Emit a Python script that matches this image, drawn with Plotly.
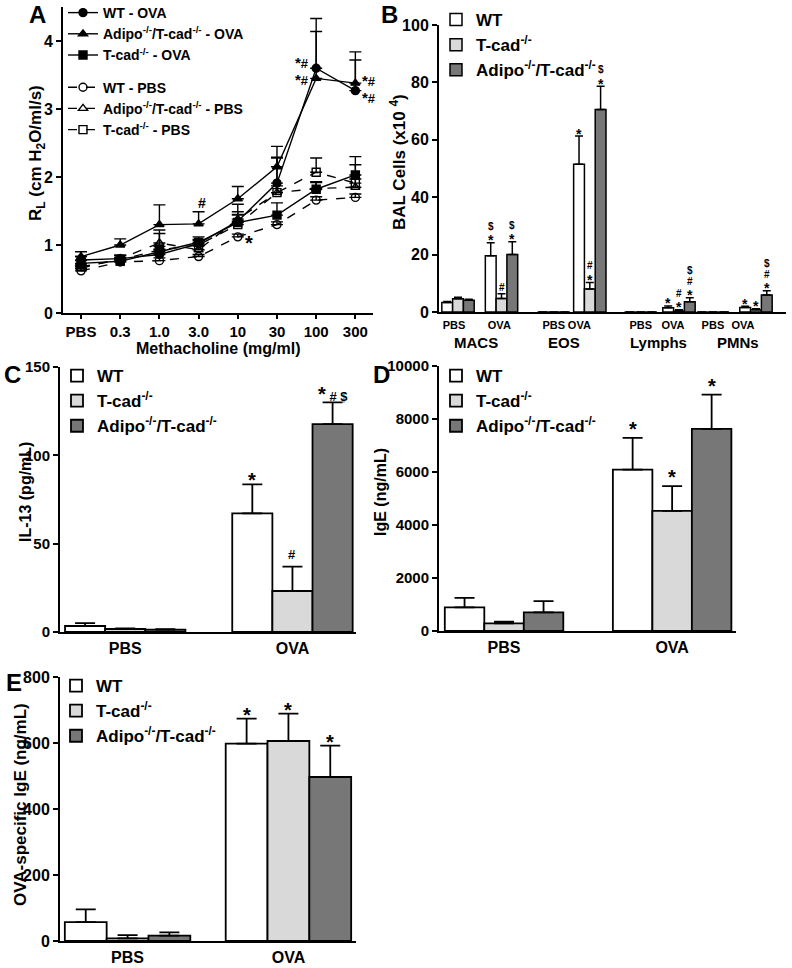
import plotly.graph_objects as go

W, H = 792, 968
FONT = "Liberation Sans, Arial, Helvetica, sans-serif"


def fx(p):
    return p / W


def fy(p):
    return 1 - p / H


def bold(size):
    return dict(size=size, color="black", family=FONT, weight="bold")


WHITE, LIGHT, DARK = "#ffffff", "#d9d9d9", "#777777"
SUP = "<sup>-/-</sup>"
N_WT = "WT"
N_TCAD = "T-cad" + SUP
N_ADIPO = "Adipo" + SUP + "/T-cad" + SUP

# ---------------- Panel A data ----------------
doses = ["PBS", "0.3", "1.0", "3.0", "10", "30", "100", "300"]
wt_ova = [0.78, 0.80, 0.86, 1.02, 1.35, 1.91, 3.60, 3.27]
wt_ova_err = [0.05, 0.05, 0.08, 0.06, 0.14, 0.37, 0.73, 0.45]
adipo_ova = [0.83, 1.00, 1.30, 1.31, 1.68, 2.15, 3.45, 3.38]
adipo_ova_err = [0.07, 0.09, 0.29, 0.18, 0.18, 0.30, 0.69, 0.46]
tcad_ova = [0.73, 0.76, 0.90, 1.04, 1.33, 1.44, 1.82, 2.03]
tcad_ova_err = [0.04, 0.05, 0.08, 0.08, 0.11, 0.18, 0.10, 0.27]
wt_pbs = [0.62, 0.75, 0.77, 0.83, 1.12, 1.30, 1.66, 1.70]
wt_pbs_err = [0.03, 0.03, 0.04, 0.03, 0.04, 0.04, 0.05, 0.05]
adipo_pbs = [0.66, 0.80, 1.03, 0.93, 1.38, 1.77, 1.83, 1.85]
adipo_pbs_err = [0.04, 0.05, 0.19, 0.06, 0.22, 0.10, 0.10, 0.12]
tcad_pbs = [0.68, 0.78, 0.93, 1.00, 1.30, 1.77, 2.07, 1.91]
tcad_pbs_err = [0.04, 0.04, 0.24, 0.07, 0.15, 0.52, 0.21, 0.27]

# ---------------- Panel B data ----------------
b_cells = ["MACS", "EOS", "Lymphs", "PMNs"]
b_treat = ["PBS", "OVA", "PBS", "OVA", "PBS", "OVA", "PBS", "OVA"]
b_wt = [3.3, 19.6, 0, 51.5, 0, 1.5, 0, 1.6]
b_wt_err = [0.4, 4.5, 0, 9.8, 0, 0.6, 0, 0.4]
b_tcad = [4.6, 4.7, 0, 8.0, 0, 0.3, 0, 0.8]
b_tcad_err = [0.5, 1.7, 0, 2.3, 0, 0.5, 0, 0.3]
b_adipo = [4.1, 20.0, 0, 70.6, 0, 3.6, 0, 5.9]
b_adipo_err = [0.3, 4.5, 0, 8.1, 0, 1.4, 0, 1.5]

# ---------------- Panels C, D, E data ----------------
groups = ["PBS", "OVA"]
c_wt, c_wt_err = [3.4, 67.2], [1.6, 16.4]
c_tcad, c_tcad_err = [1.7, 23.2], [0.4, 13.8]
c_adipo, c_adipo_err = [1.3, 117.7], [0.3, 12.3]

d_wt, d_wt_err = [890, 6090], [360, 1200]
d_tcad, d_tcad_err = [290, 4530], [60, 940]
d_adipo, d_adipo_err = [700, 7630], [430, 1290]

e_wt, e_wt_err = [57, 598], [39, 76]
e_tcad, e_tcad_err = [8, 606], [10, 83]
e_adipo, e_adipo_err = [16, 497], [10, 95]

# ---------------- layout helpers (positions) ----------------
b_pos = [0, 1, 2.2, 3.03, 4.2, 5.08, 5.86, 6.85]
b_tick_pos = [-0.09, 0.95, 2.2, 2.79, 4.2, 4.94, 5.86, 6.55]
b_cell_label_x = [476, 564, 658, 738]
two_pos = [0, 1]

fig = go.Figure()

# Panel A traces
a_series = [
    (wt_ova, wt_ova_err, "WT - OVA", "circle", "solid", "ova"),
    (adipo_ova, adipo_ova_err, N_ADIPO + " - OVA", "triangle-up", "solid", "ova"),
    (tcad_ova, tcad_ova_err, N_TCAD + " - OVA", "square", "solid", "ova"),
    (wt_pbs, wt_pbs_err, "WT - PBS", "circle-open", "dash", "pbs"),
    (adipo_pbs, adipo_pbs_err, N_ADIPO + " - PBS", "triangle-up-open", "dash", "pbs"),
    (tcad_pbs, tcad_pbs_err, N_TCAD + " - PBS", "square-open", "dash", "pbs"),
]
for vals, errs, name, sym, dash, grp in a_series:
    fig.add_trace(go.Scatter(
        x=list(range(len(doses))), y=vals, name=name, mode="lines+markers",
        line=dict(color="black", width=1.4, dash=dash),
        marker=dict(symbol=sym, size=8, color="black", line=dict(color="black", width=1.4)),
        error_y=dict(type="data", symmetric=False, array=errs, arrayminus=[0] * len(errs),
                     color="black", thickness=1.4, width=6),
        xaxis="x", yaxis="y", legend="legend", legendgroup=grp,
    ))


def add_bars(pos, series, width, xa, ya, leg, cap, lw):
    n = len(series)
    for k, (vals, errs, name, color) in enumerate(series):
        off = (k - (n - 1) / 2) * width
        fig.add_trace(go.Bar(
            x=[p + off for p in pos], y=vals, width=width, name=name,
            marker=dict(color=color, line=dict(color="black", width=lw)),
            error_y=dict(type="data", symmetric=False, array=errs, arrayminus=[0] * len(errs),
                         color="black", thickness=lw, width=cap),
            xaxis=xa, yaxis=ya, legend=leg,
        ))


BW_B, BW_C, BW_D, BW_E = 0.248, 0.24, 0.235, 0.26
add_bars(b_pos, [(b_wt, b_wt_err, N_WT, WHITE), (b_tcad, b_tcad_err, N_TCAD, LIGHT),
                 (b_adipo, b_adipo_err, N_ADIPO, DARK)], BW_B, "x2", "y2", "legend2", 4, 1.5)
add_bars(two_pos, [(c_wt, c_wt_err, N_WT, WHITE), (c_tcad, c_tcad_err, N_TCAD, LIGHT),
                   (c_adipo, c_adipo_err, N_ADIPO, DARK)], BW_C, "x3", "y3", "legend3", 10, 1.8)
add_bars(two_pos, [(d_wt, d_wt_err, N_WT, WHITE), (d_tcad, d_tcad_err, N_TCAD, LIGHT),
                   (d_adipo, d_adipo_err, N_ADIPO, DARK)], BW_D, "x4", "y4", "legend4", 10, 1.8)
add_bars(two_pos, [(e_wt, e_wt_err, N_WT, WHITE), (e_tcad, e_tcad_err, N_TCAD, LIGHT),
                   (e_adipo, e_adipo_err, N_ADIPO, DARK)], BW_E, "x5", "y5", "legend5", 10, 1.8)

# ---------------- annotations ----------------
ann = []


def txt(x, y, text, size, xref="paper", yref="paper", angle=0, xanchor="center",
        yanchor="middle", xshift=0, yshift=0):
    if xref == "paper":
        x = fx(x)
    if yref == "paper":
        y = fy(y)
    ann.append(dict(x=x, y=y, xref=xref, yref=yref, text=text, showarrow=False,
                    textangle=angle, font=bold(size),
                    xanchor=xanchor, yanchor=yanchor, xshift=xshift, yshift=yshift))


# panel letters
for letter, x, y in [("A", 37, 15), ("B", 389, 15), ("C", 12, 374), ("D", 381, 374), ("E", 14, 682)]:
    txt(x, y, letter, 24)

# axis titles
txt(37, 153, "R<sub>L</sub> (cm H<sub>2</sub>O/ml/s)", 17, angle=-90)
txt(218, 348, "Methacholine (mg/ml)", 16)
txt(398, 162, "BAL Cells (x10 <sup>4</sup>)", 17, angle=-90)
txt(25, 492, "IL-13 (pg/mL)", 16, angle=-90)
txt(380, 492, "IgE (ng/mL)", 16, angle=-90)
txt(20, 805, "OVA-specific IgE (ng/mL)", 17, angle=-90)
for name, x in zip(b_cells, b_cell_label_x):
    txt(x, 343, name, 15)

# panel A significance marks
STAR_HASH = "<span style='font-size:15px'>*</span>#"
txt(3.08, 1.62, "#", 14, xref="x", yref="y")
txt(4.29, 1.03, "<span style='font-size:20px'>*</span>", 14, xref="x", yref="y")
txt(5.64, 3.555, STAR_HASH + "<br>" + STAR_HASH, 13, xref="x", yref="y")
txt(7.35, 3.30, STAR_HASH + "<br>" + STAR_HASH, 13, xref="x", yref="y")


# panel B stacked marks
def stack(xa, ya, x, top, symbols, size_star=14, size_small=10):
    for i, s in enumerate(symbols):
        center = 6 + 10.5 * i
        if s == "*":
            txt(x, top, s, size_star, xref=xa, yref=ya, yshift=center - 0.25 * size_star)
        else:
            txt(x, top, s, size_small, xref=xa, yref=ya, yshift=center)


b_series = [(b_wt, b_wt_err), (b_tcad, b_tcad_err), (b_adipo, b_adipo_err)]
b_marks = {
    (1, 0): ["*", "$"], (1, 1): ["#"], (1, 2): ["*", "$"],
    (3, 0): ["*"], (3, 1): ["*", "#"], (3, 2): ["*", "$"],
    (5, 0): ["*"], (5, 1): ["*", "#"], (5, 2): ["*", "#", "$"],
    (7, 0): ["*"], (7, 1): ["*"], (7, 2): ["*", "#", "$"],
}
for (g, k), syms in b_marks.items():
    vals, errs = b_series[k]
    stack("x2", "y2", b_pos[g] + (k - 1) * BW_B, vals[g] + errs[g], syms)


def mark(xa, ya, x, top, text, size=20, yshift=8):
    txt(x, top, text, size, xref=xa, yref=ya, yshift=yshift)


# panel C
mark("x3", "y3", 1 - BW_C, c_wt[1] + c_wt_err[1], "*", yshift=4)
mark("x3", "y3", 1, c_tcad[1] + c_tcad_err[1], "#", size=13, yshift=12)
mark("x3", "y3", 1 + BW_C, c_adipo[1] + c_adipo_err[1],
     "*<span style='font-size:13px'> # $</span>", yshift=8)
# panel D
mark("x4", "y4", 1 - BW_D, d_wt[1] + d_wt_err[1], "*", yshift=9)
mark("x4", "y4", 1, d_tcad[1] + d_tcad_err[1], "*", yshift=9)
mark("x4", "y4", 1 + BW_D, d_adipo[1] + d_adipo_err[1], "*", yshift=9)
# panel E
mark("x5", "y5", 1 - BW_E, e_wt[1] + e_wt_err[1], "*", yshift=4)
mark("x5", "y5", 1, e_tcad[1] + e_tcad_err[1], "*", yshift=4)
mark("x5", "y5", 1 + BW_E, e_adipo[1] + e_adipo_err[1], "*", yshift=4)

# ---------------- axes ----------------
base = dict(showline=True, linecolor="black", linewidth=2, showgrid=False, zeroline=False,
            ticks="outside", ticklen=5, tickwidth=2, tickcolor="black")
xnotick = dict(base, ticks="outside", ticklen=1, tickcolor="rgba(0,0,0,0)")

layout_axes = dict(
    xaxis=dict(base, domain=[fx(63), fx(373)], range=[-0.46, 7.45], tickmode="array",
               tickvals=list(range(len(doses))), ticktext=doses, tickfont=bold(15),
               anchor="y", ticklen=4),
    yaxis=dict(base, domain=[fy(313), fy(7)], range=[0, 4.5], tickvals=[0, 1, 2, 3, 4],
               tickfont=bold(16), anchor="x"),
    xaxis2=dict(xnotick, domain=[fx(439), fx(786)], range=[-0.437, 7.54], tickmode="array",
                tickvals=b_tick_pos, ticktext=b_treat, tickfont=bold(11), anchor="y2",
                ticklen=2),
    yaxis2=dict(base, domain=[fy(312), fy(25)], range=[0, 100], tickvals=[0, 20, 40, 60, 80, 100],
                tickfont=bold(16), anchor="x2"),
    xaxis3=dict(xnotick, domain=[fx(60), fx(356)], range=[-0.39, 1.38], tickmode="array",
                tickvals=two_pos, ticktext=groups, tickfont=bold(16), anchor="y3"),
    yaxis3=dict(base, domain=[fy(632), fy(367)], range=[0, 150], tickvals=[0, 50, 100, 150],
                tickfont=bold(15), anchor="x3"),
    xaxis4=dict(xnotick, domain=[fx(439), fx(736)], range=[-0.387, 1.38], tickmode="array",
                tickvals=two_pos, ticktext=groups, tickfont=bold(16), anchor="y4"),
    yaxis4=dict(base, domain=[fy(631), fy(366)], range=[0, 10000], tickformat="d",
                tickvals=[0, 2000, 4000, 6000, 8000, 10000], tickfont=bold(15), anchor="x4"),
    xaxis5=dict(xnotick, domain=[fx(60), fx(356)], range=[-0.42, 1.42], tickmode="array",
                tickvals=two_pos, ticktext=groups, tickfont=bold(16), anchor="y5"),
    yaxis5=dict(base, domain=[fy(941), fy(677)], range=[0, 800], tickvals=[0, 200, 400, 600, 800],
                tickfont=bold(16), anchor="x5"),
)

leg = dict(bgcolor="rgba(0,0,0,0)", xanchor="left", yanchor="top", borderwidth=0, itemwidth=30)
fig.update_layout(
    width=W, height=H, margin=dict(l=0, r=0, t=0, b=0, autoexpand=False),
    paper_bgcolor="white", plot_bgcolor="white",
    font=bold(15),
    barmode="overlay", showlegend=True,
    legend=dict(leg, x=fx(63), y=fy(-3), font=bold(14), tracegroupgap=11,
                traceorder="grouped"),
    legend2=dict(leg, x=fx(436), y=fy(2), font=bold(17)),
    legend3=dict(leg, x=fx(57), y=fy(358), font=bold(17)),
    legend4=dict(leg, x=fx(436), y=fy(358), font=bold(17)),
    legend5=dict(leg, x=fx(56), y=fy(668), font=bold(17)),
    annotations=ann,
    **layout_axes,
)

fig.write_html("out.html", config={"displayModeBar": False},
               post_script="document.body.style.margin='0';")
